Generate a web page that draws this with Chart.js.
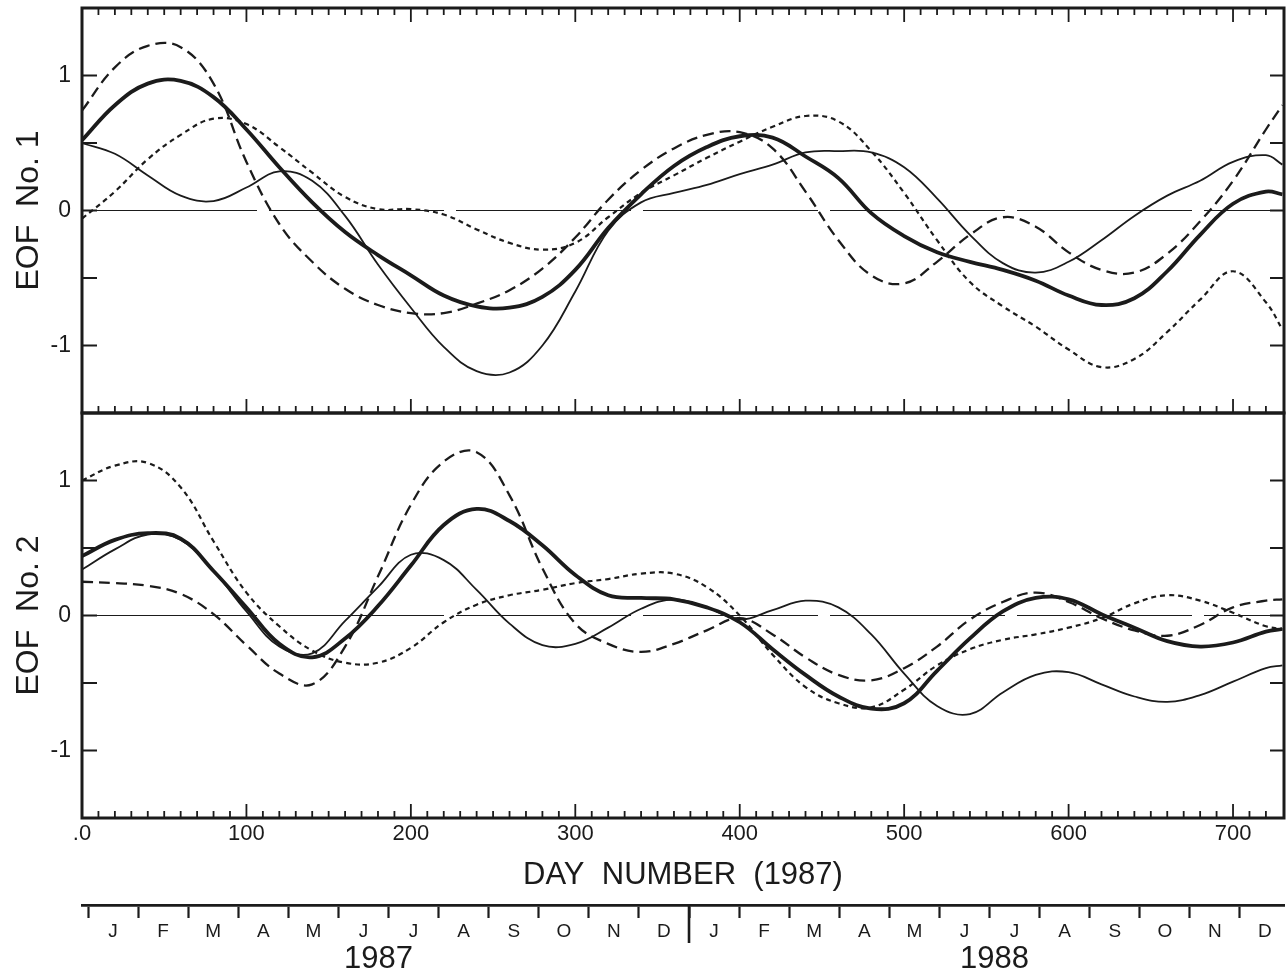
<!DOCTYPE html>
<html>
<head>
<meta charset="utf-8">
<title>EOF No. 1 / EOF No. 2</title>
<script src="https://cdn.jsdelivr.net/npm/chart.js@4.4.1/dist/chart.umd.min.js"></script>
<style>
  html, body { margin: 0; padding: 0; background: #fff; }
  #wrap { width: 1286px; height: 978px; }
</style>
</head>
<body>
<div id="wrap"><canvas id="eof" width="1286" height="978"></canvas></div>
<script>
// sample days shared by all curves
const days = [0, 20, 40, 60, 80, 100, 120, 140, 160, 180, 200, 220, 240, 260, 280, 300, 320, 340, 360,
  380, 400, 420, 440, 460, 480, 500, 520, 540, 560, 580, 600, 620, 640, 660, 680, 700, 720, 730];

// EOF No. 1 (top panel)
const eof1Heavy = [0.52, 0.78, 0.94, 0.96, 0.84, 0.60, 0.32, 0.06, -0.16, -0.33, -0.48, -0.63, -0.71, -0.72, -0.64, -0.44, -0.13, 0.12, 0.33,
  0.47, 0.55, 0.54, 0.40, 0.24, -0.02, -0.19, -0.31, -0.38, -0.44, -0.52, -0.63, -0.70, -0.65, -0.45, -0.18, 0.05, 0.14, 0.12];
const eof1Thin = [0.50, 0.42, 0.26, 0.11, 0.07, 0.17, 0.29, 0.22, -0.04, -0.40, -0.72, -1.01, -1.19, -1.20, -1.00, -0.60, -0.15, 0.06, 0.13,
  0.19, 0.27, 0.34, 0.43, 0.44, 0.43, 0.32, 0.09, -0.18, -0.39, -0.46, -0.38, -0.22, -0.04, 0.11, 0.22, 0.36, 0.41, 0.34];
const eof1Dash = [0.74, 1.06, 1.22, 1.21, 0.94, 0.36, -0.10, -0.38, -0.58, -0.70, -0.76, -0.76, -0.69, -0.59, -0.43, -0.20, 0.08, 0.30, 0.46,
  0.56, 0.58, 0.46, 0.14, -0.22, -0.48, -0.54, -0.38, -0.18, -0.05, -0.12, -0.31, -0.44, -0.46, -0.32, -0.08, 0.22, 0.60, 0.78];
const eof1Dot = [-0.06, 0.14, 0.38, 0.56, 0.68, 0.64, 0.47, 0.28, 0.10, 0.01, 0.01, -0.03, -0.14, -0.24, -0.29, -0.24, -0.05, 0.13, 0.26,
  0.39, 0.51, 0.62, 0.70, 0.66, 0.44, 0.13, -0.22, -0.53, -0.71, -0.86, -1.03, -1.16, -1.10, -0.90, -0.66, -0.45, -0.68, -0.88];

// EOF No. 2 (bottom panel)
const eof2Heavy = [0.44, 0.56, 0.61, 0.57, 0.33, 0.06, -0.21, -0.31, -0.17, 0.07, 0.37, 0.67, 0.79, 0.70, 0.52, 0.30, 0.15, 0.13, 0.12,
  0.06, -0.05, -0.25, -0.44, -0.60, -0.69, -0.65, -0.41, -0.17, 0.03, 0.13, 0.12, 0.01, -0.09, -0.19, -0.23, -0.20, -0.12, -0.10];
const eof2Thin = [0.34, 0.49, 0.60, 0.56, 0.33, 0.03, -0.23, -0.28, -0.04, 0.21, 0.45, 0.41, 0.19, -0.06, -0.22, -0.21, -0.09, 0.05, 0.12,
  0.06, -0.03, 0.04, 0.11, 0.06, -0.14, -0.43, -0.67, -0.73, -0.57, -0.44, -0.42, -0.51, -0.60, -0.64, -0.59, -0.49, -0.39, -0.37];
const eof2Dash = [0.25, 0.24, 0.22, 0.16, 0.01, -0.22, -0.43, -0.51, -0.23, 0.29, 0.82, 1.14, 1.21, 0.89, 0.35, -0.06, -0.21, -0.27, -0.21,
  -0.11, -0.02, -0.14, -0.31, -0.44, -0.48, -0.39, -0.23, -0.03, 0.10, 0.17, 0.10, -0.02, -0.11, -0.15, -0.07, 0.06, 0.11, 0.12];
const eof2Dot = [1.00, 1.11, 1.13, 0.95, 0.55, 0.17, -0.08, -0.26, -0.35, -0.35, -0.24, -0.05, 0.08, 0.15, 0.19, 0.24, 0.27, 0.31, 0.31,
  0.21, 0.00, -0.29, -0.53, -0.65, -0.68, -0.55, -0.37, -0.25, -0.18, -0.14, -0.09, -0.02, 0.09, 0.15, 0.11, 0.02, -0.08, -0.10];

const zeroDays = [0, 731];
const zeroValues = [0, 0];

const dayTicks = [0, 100, 200, 300, 400, 500, 600, 700];
const dayTickLabels = ['.0', '100', '200', '300', '400', '500', '600', '700'];
const eofTicks = [-1, -0.5, 0, 0.5, 1];
const monthLetters = ['J', 'F', 'M', 'A', 'M', 'J', 'J', 'A', 'S', 'O', 'N', 'D',
  'J', 'F', 'M', 'A', 'M', 'J', 'J', 'A', 'S', 'O', 'N', 'D'];
const years = ['1987', '1988'];
const yearMonthPos = [5.8, 18.1];

const INK = '#1b1b1b';
Chart.defaults.font.family = '"Liberation Sans", Arial, Helvetica, sans-serif';
Chart.defaults.color = INK;

const STYLES = {
  heavy: { width: 3.8, dash: [] },
  thin: { width: 1.8, dash: [] },
  dash: { width: 2.3, dash: [11, 6] },
  dot: { width: 2.2, dash: [5, 4] },
};

function series(label, vals, yAxisID, style) {
  return {
    label,
    data: days.map((d, i) => ({ x: d, y: vals[i] })),
    yAxisID,
    borderColor: INK,
    borderWidth: STYLES[style].width,
    borderDash: STYLES[style].dash,
    pointRadius: 0,
    fill: false,
    tension: 0.4,
  };
}

function zeroLine(yAxisID) {
  return {
    label: 'zero',
    data: zeroDays.map((d, i) => ({ x: d, y: zeroValues[i] })),
    yAxisID,
    borderColor: INK,
    borderWidth: 1.2,
    borderDash: [175, 12],
    pointRadius: 0,
    tension: 0,
  };
}

function eofAxis(title) {
  return {
    type: 'linear',
    position: 'left',
    stack: 'eof',
    stackWeight: 1,
    min: -1.5,
    max: 1.5,
    afterBuildTicks: (s) => { s.ticks = eofTicks.map((v) => ({ value: v })); },
    afterFit: (s) => {
      s.width = 82;
      // labels sit well inside the panel, no need to pad the chart area
      s.paddingTop = 0;
      s.paddingBottom = 0;
    },
    grid: { display: false, drawTicks: false },
    border: { display: false },
    ticks: {
      font: { size: 23 },
      padding: 11,
      callback: (v) => (Number.isInteger(v) ? String(v) : ''),
    },
    title: { display: true, text: title, font: { size: 32 }, padding: { top: 10 } },
  };
}

// frames, inward ticks, year divider and year names
const eofFrames = {
  id: 'eofFrames',
  afterDraw(chart) {
    const { ctx, chartArea: { left, right } } = chart;
    const x = chart.scales.x;
    const top = chart.scales.yTop;
    const bot = chart.scales.yBot;
    ctx.save();
    ctx.strokeStyle = INK;
    [top, bot].forEach((s) => {
      ctx.lineWidth = 3;
      ctx.strokeRect(left, s.top, right - left, s.bottom - s.top);
      ctx.lineWidth = 2;
      ctx.beginPath();
      eofTicks.forEach((v) => {
        const py = s.getPixelForValue(v);
        ctx.moveTo(left, py); ctx.lineTo(left + 15, py);
        ctx.moveTo(right, py); ctx.lineTo(right - 14, py);
      });
      ctx.stroke();
    });

    ctx.lineWidth = 1.8;
    ctx.beginPath();
    for (let d = 10; d <= 720; d += 10) {
      const px = x.getPixelForValue(d);
      const len = d % 100 === 0 ? 14 : 7;
      ctx.moveTo(px, top.top); ctx.lineTo(px, top.top + len);
      ctx.moveTo(px, top.bottom); ctx.lineTo(px, top.bottom - len);
      ctx.moveTo(px, bot.bottom); ctx.lineTo(px, bot.bottom - len);
    }
    ctx.stroke();

    const m = chart.scales.months;
    const divX = m.getPixelForValue(12);
    ctx.lineWidth = 2.6;
    ctx.beginPath();
    ctx.moveTo(divX, m.top); ctx.lineTo(divX, m.top + 38);
    ctx.stroke();

    ctx.fillStyle = INK;
    ctx.font = '31px "Liberation Sans", Arial, sans-serif';
    ctx.textAlign = 'center';
    ctx.textBaseline = 'middle';
    years.forEach((yr, i) => {
      ctx.fillText(yr, m.getPixelForValue(yearMonthPos[i]), 959);
    });
    ctx.restore();
  },
};

const monthTickValues = [];
monthLetters.forEach((_, i) => { monthTickValues.push(i, i + 0.5); });

new Chart(document.getElementById('eof').getContext('2d'), {
  type: 'line',
  data: {
    datasets: [
      zeroLine('yTop'),
      series('EOF 1 dotted', eof1Dot, 'yTop', 'dot'),
      series('EOF 1 dashed', eof1Dash, 'yTop', 'dash'),
      series('EOF 1 thin', eof1Thin, 'yTop', 'thin'),
      series('EOF 1 heavy', eof1Heavy, 'yTop', 'heavy'),
      zeroLine('yBot'),
      series('EOF 2 dotted', eof2Dot, 'yBot', 'dot'),
      series('EOF 2 dashed', eof2Dash, 'yBot', 'dash'),
      series('EOF 2 thin', eof2Thin, 'yBot', 'thin'),
      series('EOF 2 heavy', eof2Heavy, 'yBot', 'heavy'),
    ],
  },
  options: {
    responsive: false,
    animation: false,
    devicePixelRatio: 1,
    layout: { padding: { top: 8, right: 2, left: 0, bottom: 0 } },
    plugins: {
      legend: { display: false },
      tooltip: { enabled: false },
    },
    scales: {
      x: {
        type: 'linear',
        position: 'bottom',
        min: 0,
        max: 731,
        afterBuildTicks: (s) => { s.ticks = dayTicks.map((v) => ({ value: v })); },
        afterFit: (s) => { s.height = 87; },
        grid: { display: false, drawTicks: false },
        border: { display: false },
        ticks: {
          font: { size: 22 },
          padding: 3,
          maxRotation: 0,
          callback: (v) => dayTickLabels[dayTicks.indexOf(v)],
        },
        title: {
          display: true,
          text: 'DAY  NUMBER  (1987)',
          font: { size: 31 },
          padding: { top: 0, bottom: 11 },
        },
      },
      months: {
        type: 'linear',
        position: 'bottom',
        weight: 1,
        min: -0.12,
        max: 23.88,
        afterBuildTicks: (s) => { s.ticks = monthTickValues.map((v) => ({ value: v })); },
        afterFit: (s) => { s.height = 73; },
        grid: {
          drawOnChartArea: false,
          drawTicks: true,
          tickLength: 13,
          tickWidth: 2.2,
          tickColor: (c) => (Number.isInteger(c.tick.value) ? INK : 'rgba(0,0,0,0)'),
        },
        border: { display: true, color: INK, width: 2.8 },
        ticks: {
          autoSkip: false,
          maxRotation: 0,
          font: { size: 19 },
          padding: 2,
          callback: (v) => (Number.isInteger(v) ? '' : monthLetters[Math.floor(v)]),
        },
      },
      // declared bottom first: the later stacked axis is laid out on top
      yBot: eofAxis('EOF  No. 2'),
      yTop: eofAxis('EOF  No. 1'),
    },
  },
  plugins: [eofFrames],
});
</script>
</body>
</html>
